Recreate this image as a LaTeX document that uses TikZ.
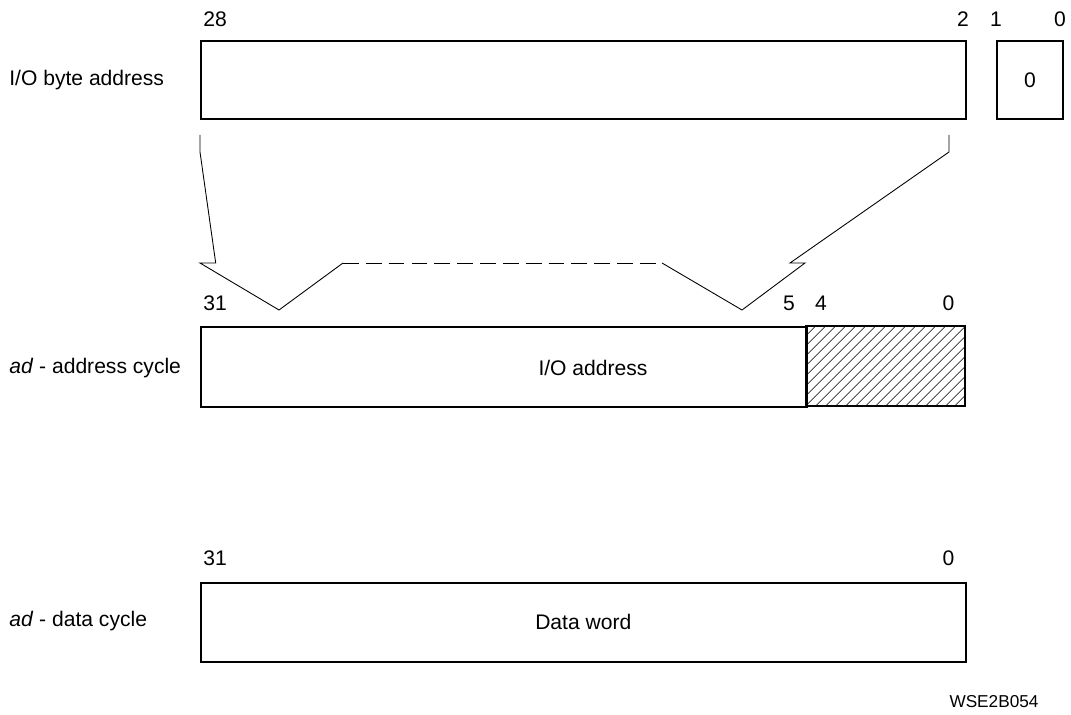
\documentclass[tikz,border=0pt]{standalone}
\usepackage{fontspec}
\setmainfont{Liberation Sans}
\usetikzlibrary{patterns.meta, positioning}

\begin{document}
\begin{tikzpicture}[
  x=0.02cm, y=-0.02cm,
  field/.style={rectangle, draw=black, line width=1pt, fill=white,
                anchor=north west, inner sep=0pt},
  hatched/.style={field, pattern={Lines[angle=45, distance=4pt, line width=0.4pt]}},
  bitno/.style={inner sep=0pt, font=\fontsize{12}{14}\selectfont},
  rowlbl/.style={anchor=west, inner sep=0pt, font=\fontsize{12}{14}\selectfont},
  brk/.style={line width=0.5pt}
]
  \useasboundingbox (0,0) rectangle (1071,715);

  \node[field, minimum width=15.3cm, minimum height=1.56cm] (byteaddr) at (200,40) {};
  \node[field, minimum width=1.32cm, minimum height=1.56cm] (lowbits) at (996,40) {};
  \node[bitno] at (lowbits.center) {0};
  \node[rowlbl] (lblbyte) at (9,80) {I/O byte address};
  \node[bitno] (b28) at (215,19) {28};
  \node[bitno] (b2) at (963,19) {2};
  \node[bitno] (b1) at (996,19) {1};
  \node[bitno] (b0) at (1060,19) {0};

  \node[field, minimum width=12.12cm, minimum height=1.6cm] (ioaddr) at (200,326) {};
  \node[hatched, minimum width=3.18cm, minimum height=1.6cm] (rsvd) at (806,326) {};
  \node[bitno] (ioname) at (593,368) {I/O address};
  \node[rowlbl] (lbladdr) at (9,368) {\textit{ad} - address cycle};
  \node[bitno] (a31) at (215,303) {31};
  \node[bitno] (a5) at (789,303) {5};
  \node[bitno] (a4) at (821,303) {4};
  \node[bitno] (a0) at (948.5,303) {0};

  \node[field, minimum width=15.3cm, minimum height=1.58cm] (dataword) at (200,582) {};
  \node[bitno] at (dataword.center) {Data word};
  \node[rowlbl] (lbldata) at (9,621) {\textit{ad} - data cycle};
  \node[bitno] (d31) at (215,558) {31};
  \node[bitno] (d0) at (948.5,558) {0};

  \node[bitno, font=\fontsize{9.8}{11}\selectfont] (figid) at (994,702) {WSE2B054};

  \coordinate (bl) at (200,135);
  \coordinate (br) at (949,135);
  \draw[brk] (bl) -- (200,152) -- (215.7,263) -- (200,263) -- (279,310) -- (343,263);
  \draw[brk, dash pattern=on 9pt off 4pt] (343,263) -- (662,263);
  \draw[brk] (662,263) -- (742,310) -- (805,263) -- (790,263) -- (949,152) -- (br);
\end{tikzpicture}
\end{document}
